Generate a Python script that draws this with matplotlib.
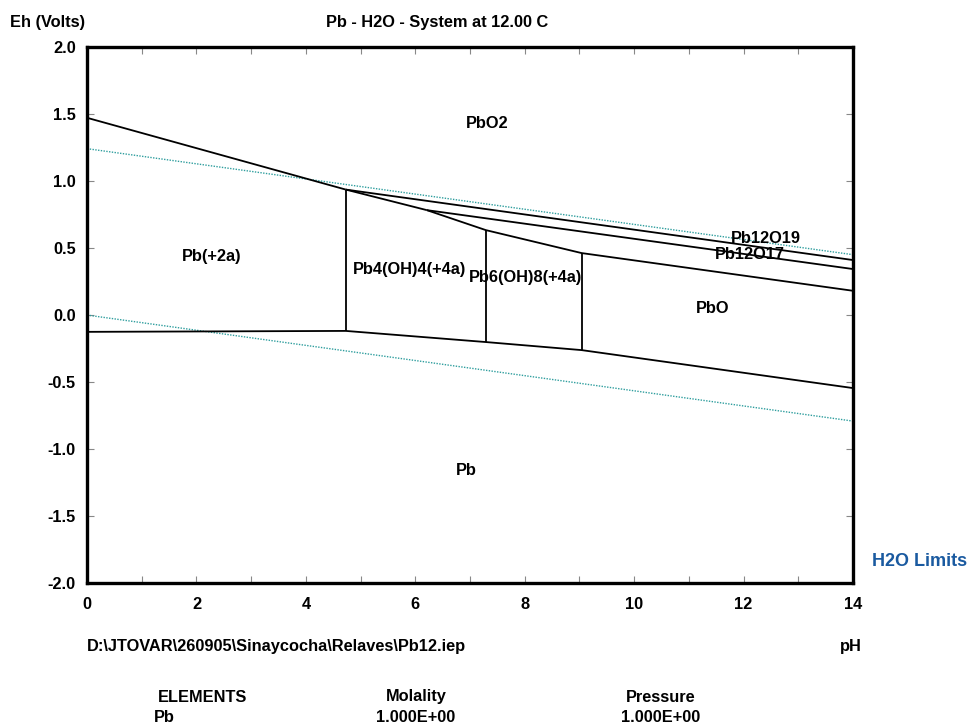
import matplotlib
matplotlib.use("Agg")
import matplotlib.pyplot as plt

plt.rcParams['font.family'] = ['Liberation Sans', 'DejaVu Sans']
plt.rcParams['font.weight'] = 'bold'

# Phase boundaries (pH, Eh)
pbo2_upper_x = [0.0, 4.73]
pbo2_upper_y = [1.47, 0.935]
pb2a_pb4_x = [4.73, 4.73]
pb2a_pb4_y = [0.935, -0.118]
pb_lower_x = [0.0, 4.73, 7.29, 9.04, 14.0]
pb_lower_y = [-0.125, -0.118, -0.201, -0.261, -0.544]
pb4_pb6_x = [7.29, 7.29]
pb4_pb6_y = [0.633, -0.201]
pb6_pbo_x = [9.04, 9.04]
pb6_pbo_y = [0.462, -0.261]
pbo2_pb12o19_x = [4.73, 14.0]
pbo2_pb12o19_y = [0.935, 0.410]
pb12o19_pb4_x = [4.73, 6.21]
pb12o19_pb4_y = [0.935, 0.782]
pb12o19_pb12o17_x = [6.21, 14.0]
pb12o19_pb12o17_y = [0.782, 0.343]
pb12o17_lower_x = [6.21, 7.29, 9.04, 14.0]
pb12o17_lower_y = [0.782, 0.633, 0.462, 0.181]

# H2O stability limits
h2o_x = [0.0, 14.0]
h2o_upper_y = [1.24, 0.45]
h2o_lower_y = [0.0, -0.79]

# Field labels
field_names = ["PbO2", "Pb(+2a)", "Pb4(OH)4(+4a)", "Pb6(OH)8(+4a)", "PbO", "Pb", "Pb12O19", "Pb12O17"]
field_x = [7.32, 2.27, 5.89, 8.02, 11.44, 6.93, 12.4, 12.11]
field_y = [1.43, 0.44, 0.343, 0.283, 0.052, -1.16, 0.57, 0.455]

x_ticks = list(range(0, 15))
x_ticklabels = [str(t) if t % 2 == 0 else "" for t in x_ticks]
y_ticks = [-2.0, -1.5, -1.0, -0.5, 0.0, 0.5, 1.0, 1.5, 2.0]
y_ticklabels = ["-2.0", "-1.5", "-1.0", "-0.5", "0.0", "0.5", "1.0", "1.5", "2.0"]

FS = 11.8

fig = plt.figure(figsize=(9.69, 7.28), dpi=100)
ax = fig.add_axes([0.0898, 0.1985, 0.7905, 0.7374])

lc = 'black'
lw = 1.3
for xs, ys in [(pbo2_upper_x, pbo2_upper_y), (pb2a_pb4_x, pb2a_pb4_y), (pb_lower_x, pb_lower_y),
               (pb4_pb6_x, pb4_pb6_y), (pb6_pbo_x, pb6_pbo_y), (pbo2_pb12o19_x, pbo2_pb12o19_y),
               (pb12o19_pb4_x, pb12o19_pb4_y), (pb12o19_pb12o17_x, pb12o19_pb12o17_y),
               (pb12o17_lower_x, pb12o17_lower_y)]:
    ax.plot(xs, ys, color=lc, lw=lw, solid_capstyle='butt', zorder=3)

teal = '#2f9e9e'
ax.plot(h2o_x, h2o_upper_y, color=teal, lw=1.0, ls=(0, (1, 1)), zorder=2)
ax.plot(h2o_x, h2o_lower_y, color=teal, lw=1.0, ls=(0, (1, 1)), zorder=2)

for name, fx, fy in zip(field_names, field_x, field_y):
    ax.text(fx, fy, name, ha='center', va='center', fontsize=FS, fontweight='bold', zorder=4)

ax.set_xlim(0, 14)
ax.set_ylim(-2.0, 2.0)
ax.set_xticks(x_ticks)
ax.set_xticklabels(x_ticklabels)
ax.set_yticks(y_ticks)
ax.set_yticklabels(y_ticklabels)
ax.tick_params(axis='both', direction='in', length=5, width=0.8, color='#888888',
               labelsize=FS, top=True, right=True)
ax.tick_params(axis='x', pad=10)
ax.tick_params(axis='y', pad=8)
for lab in ax.get_xticklabels() + ax.get_yticklabels():
    lab.set_fontweight('bold')
for sp in ax.spines.values():
    sp.set_linewidth(2.4)
    sp.set_zorder(5)

fig.text(48 / 969, 1 - 22 / 728, "Eh (Volts)", ha='center', va='center', fontsize=FS, fontweight='bold')
fig.text(437 / 969, 1 - 23 / 728, "Pb - H2O - System at 12.00 C", ha='center', va='center', fontsize=FS, fontweight='bold')
fig.text(920 / 969, 1 - 561 / 728, "H2O Limits", ha='center', va='center', fontsize=13, fontweight='bold', color='#1a5aa0')
fig.text(87 / 969, 1 - 647 / 728, r"D:\JTOVAR\260905\Sinaycocha\Relaves\Pb12.iep", ha='left', va='center', fontsize=FS, fontweight='bold')
fig.text(862 / 969, 1 - 647 / 728, "pH", ha='right', va='center', fontsize=FS, fontweight='bold')
fig.text(203 / 969, 1 - 697 / 728, "ELEMENTS", ha='center', va='center', fontsize=FS, fontweight='bold')
fig.text(416 / 969, 1 - 697 / 728, "Molality", ha='center', va='center', fontsize=FS, fontweight='bold')
fig.text(661 / 969, 1 - 697 / 728, "Pressure", ha='center', va='center', fontsize=FS, fontweight='bold')
fig.text(164 / 969, 1 - 718 / 728, "Pb", ha='center', va='center', fontsize=FS, fontweight='bold')
fig.text(416 / 969, 1 - 718 / 728, "1.000E+00", ha='center', va='center', fontsize=FS, fontweight='bold')
fig.text(661 / 969, 1 - 718 / 728, "1.000E+00", ha='center', va='center', fontsize=FS, fontweight='bold')

fig.savefig("out.png", dpi=100)
